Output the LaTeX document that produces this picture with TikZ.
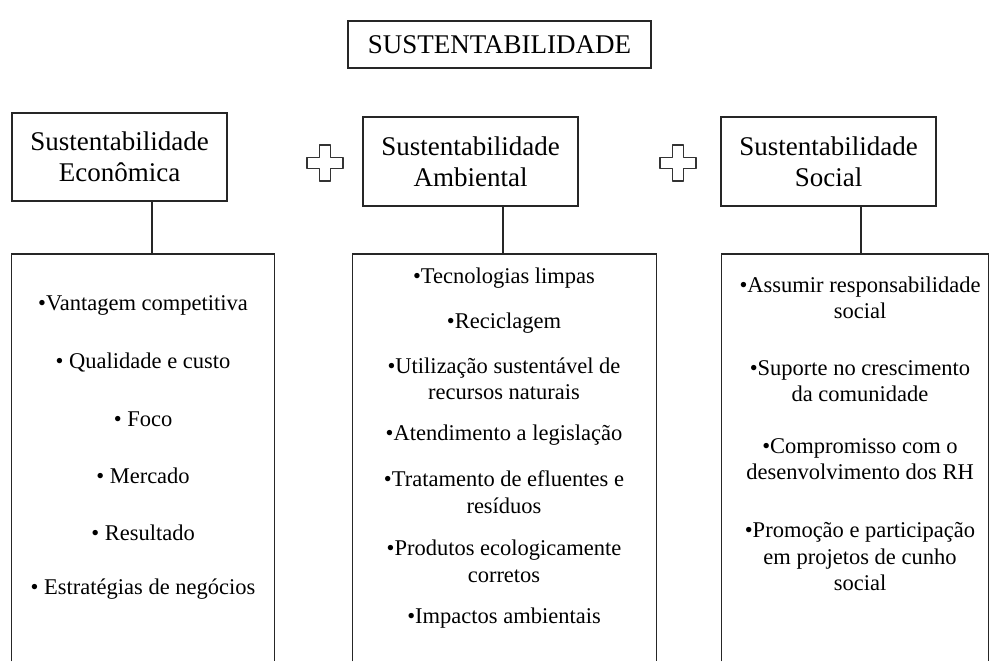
\documentclass[tikz,border=0pt]{standalone}
\usepackage{fontspec}
\setmainfont{Liberation Serif}
\begin{document}
\begin{tikzpicture}[x=1pt,y=-1pt,
  boxline/.style={draw=black!85,line width=1.3pt},
  headbox/.style={boxline,minimum width=215pt,minimum height=89pt,inner sep=0pt,align=center,font=\fontsize{27}{31}\selectfont},
  titlebox/.style={boxline,minimum width=303pt,minimum height=47pt,inner sep=0pt,font=\fontsize{27}{31}\selectfont},
  listbox/.style={minimum height=407pt,inner sep=0pt,anchor=north},
  item/.style={align=center,inner sep=0pt,font=\fontsize{22.5}{26.5}\selectfont},
  link/.style={draw=black!85,line width=1.3pt},
  plussign/.style={draw=black!80,line width=1.2pt,line join=round}
]
\useasboundingbox (0,0) rectangle (990,661);

% title
\node[titlebox] (title) at (499.5,44.5) {SUSTENTABILIDADE};

% heading boxes
\node[headbox,minimum height=88pt] (tE) at (119.5,157) {Sustentabilidade\\Econômica};
\node[headbox] (tA) at (470.5,161.5) {Sustentabilidade\\Ambiental};
\node[headbox] (tS) at (828.5,161.5) {Sustentabilidade\\Social};

% list boxes (open at the bottom)
\node[listbox,minimum width=262pt] (bE) at (143,254) {};
\node[listbox,minimum width=303pt] (bA) at (504.5,254) {};
\node[listbox,minimum width=266pt] (bS) at (855,254) {};
\foreach \b in {bE,bA,bS}
  \draw[boxline] (\b.south west) -- (\b.north west) -- (\b.north east) -- (\b.south east);

% connectors
\draw[link] ([xshift=32.5pt]tE.south) -- ([xshift=32.5pt]tE.south |- bE.north);
\draw[link] ([xshift=32.5pt]tA.south) -- ([xshift=32.5pt]tA.south |- bA.north);
\draw[link] ([xshift=32.5pt]tS.south) -- ([xshift=32.5pt]tS.south |- bS.north);

% plus signs
\foreach \cx in {325,678}
  \draw[plussign] (\cx-5.5,145) -- (\cx+5.5,145) -- (\cx+5.5,157.5) -- (\cx+18,157.5)
    -- (\cx+18,168.5) -- (\cx+5.5,168.5) -- (\cx+5.5,181) -- (\cx-5.5,181)
    -- (\cx-5.5,168.5) -- (\cx-18,168.5) -- (\cx-18,157.5) -- (\cx-5.5,157.5) -- cycle;

% economic items
\node[item] (e1) at (143,305) {•Vantagem competitiva};
\node[item] (e2) at (143,363) {• Qualidade e custo};
\node[item] (e3) at (143,419) {• Foco};
\node[item] (e4) at (143,476) {• Mercado};
\node[item] (e5) at (143,533) {• Resultado};
\node[item] (e6) at (143,589) {• Estratégias de negócios};

% environmental items
\node[item] (a1) at (504,278) {•Tecnologias limpas};
\node[item] (a2) at (504,323) {•Reciclagem};
\node[item] (a3) at (504,379) {•Utilização sustentável de\\recursos naturais};
\node[item] (a4) at (504,435) {•Atendimento a legislação};
\node[item] (a5) at (504,492) {•Tratamento de efluentes e\\resíduos};
\node[item] (a6) at (504,561.5) {•Produtos ecologicamente\\corretos};
\node[item] (a7) at (504,618) {•Impactos ambientais};

% social items
\node[item] (s1) at (860,298) {•Assumir responsabilidade\\social};
\node[item] (s2) at (860,381) {•Suporte no crescimento\\da comunidade};
\node[item] (s3) at (860,459) {•Compromisso com o\\desenvolvimento dos RH};
\node[item] (s4) at (860,557) {•Promoção e participação\\em projetos de cunho\\social};
\end{tikzpicture}
\end{document}
